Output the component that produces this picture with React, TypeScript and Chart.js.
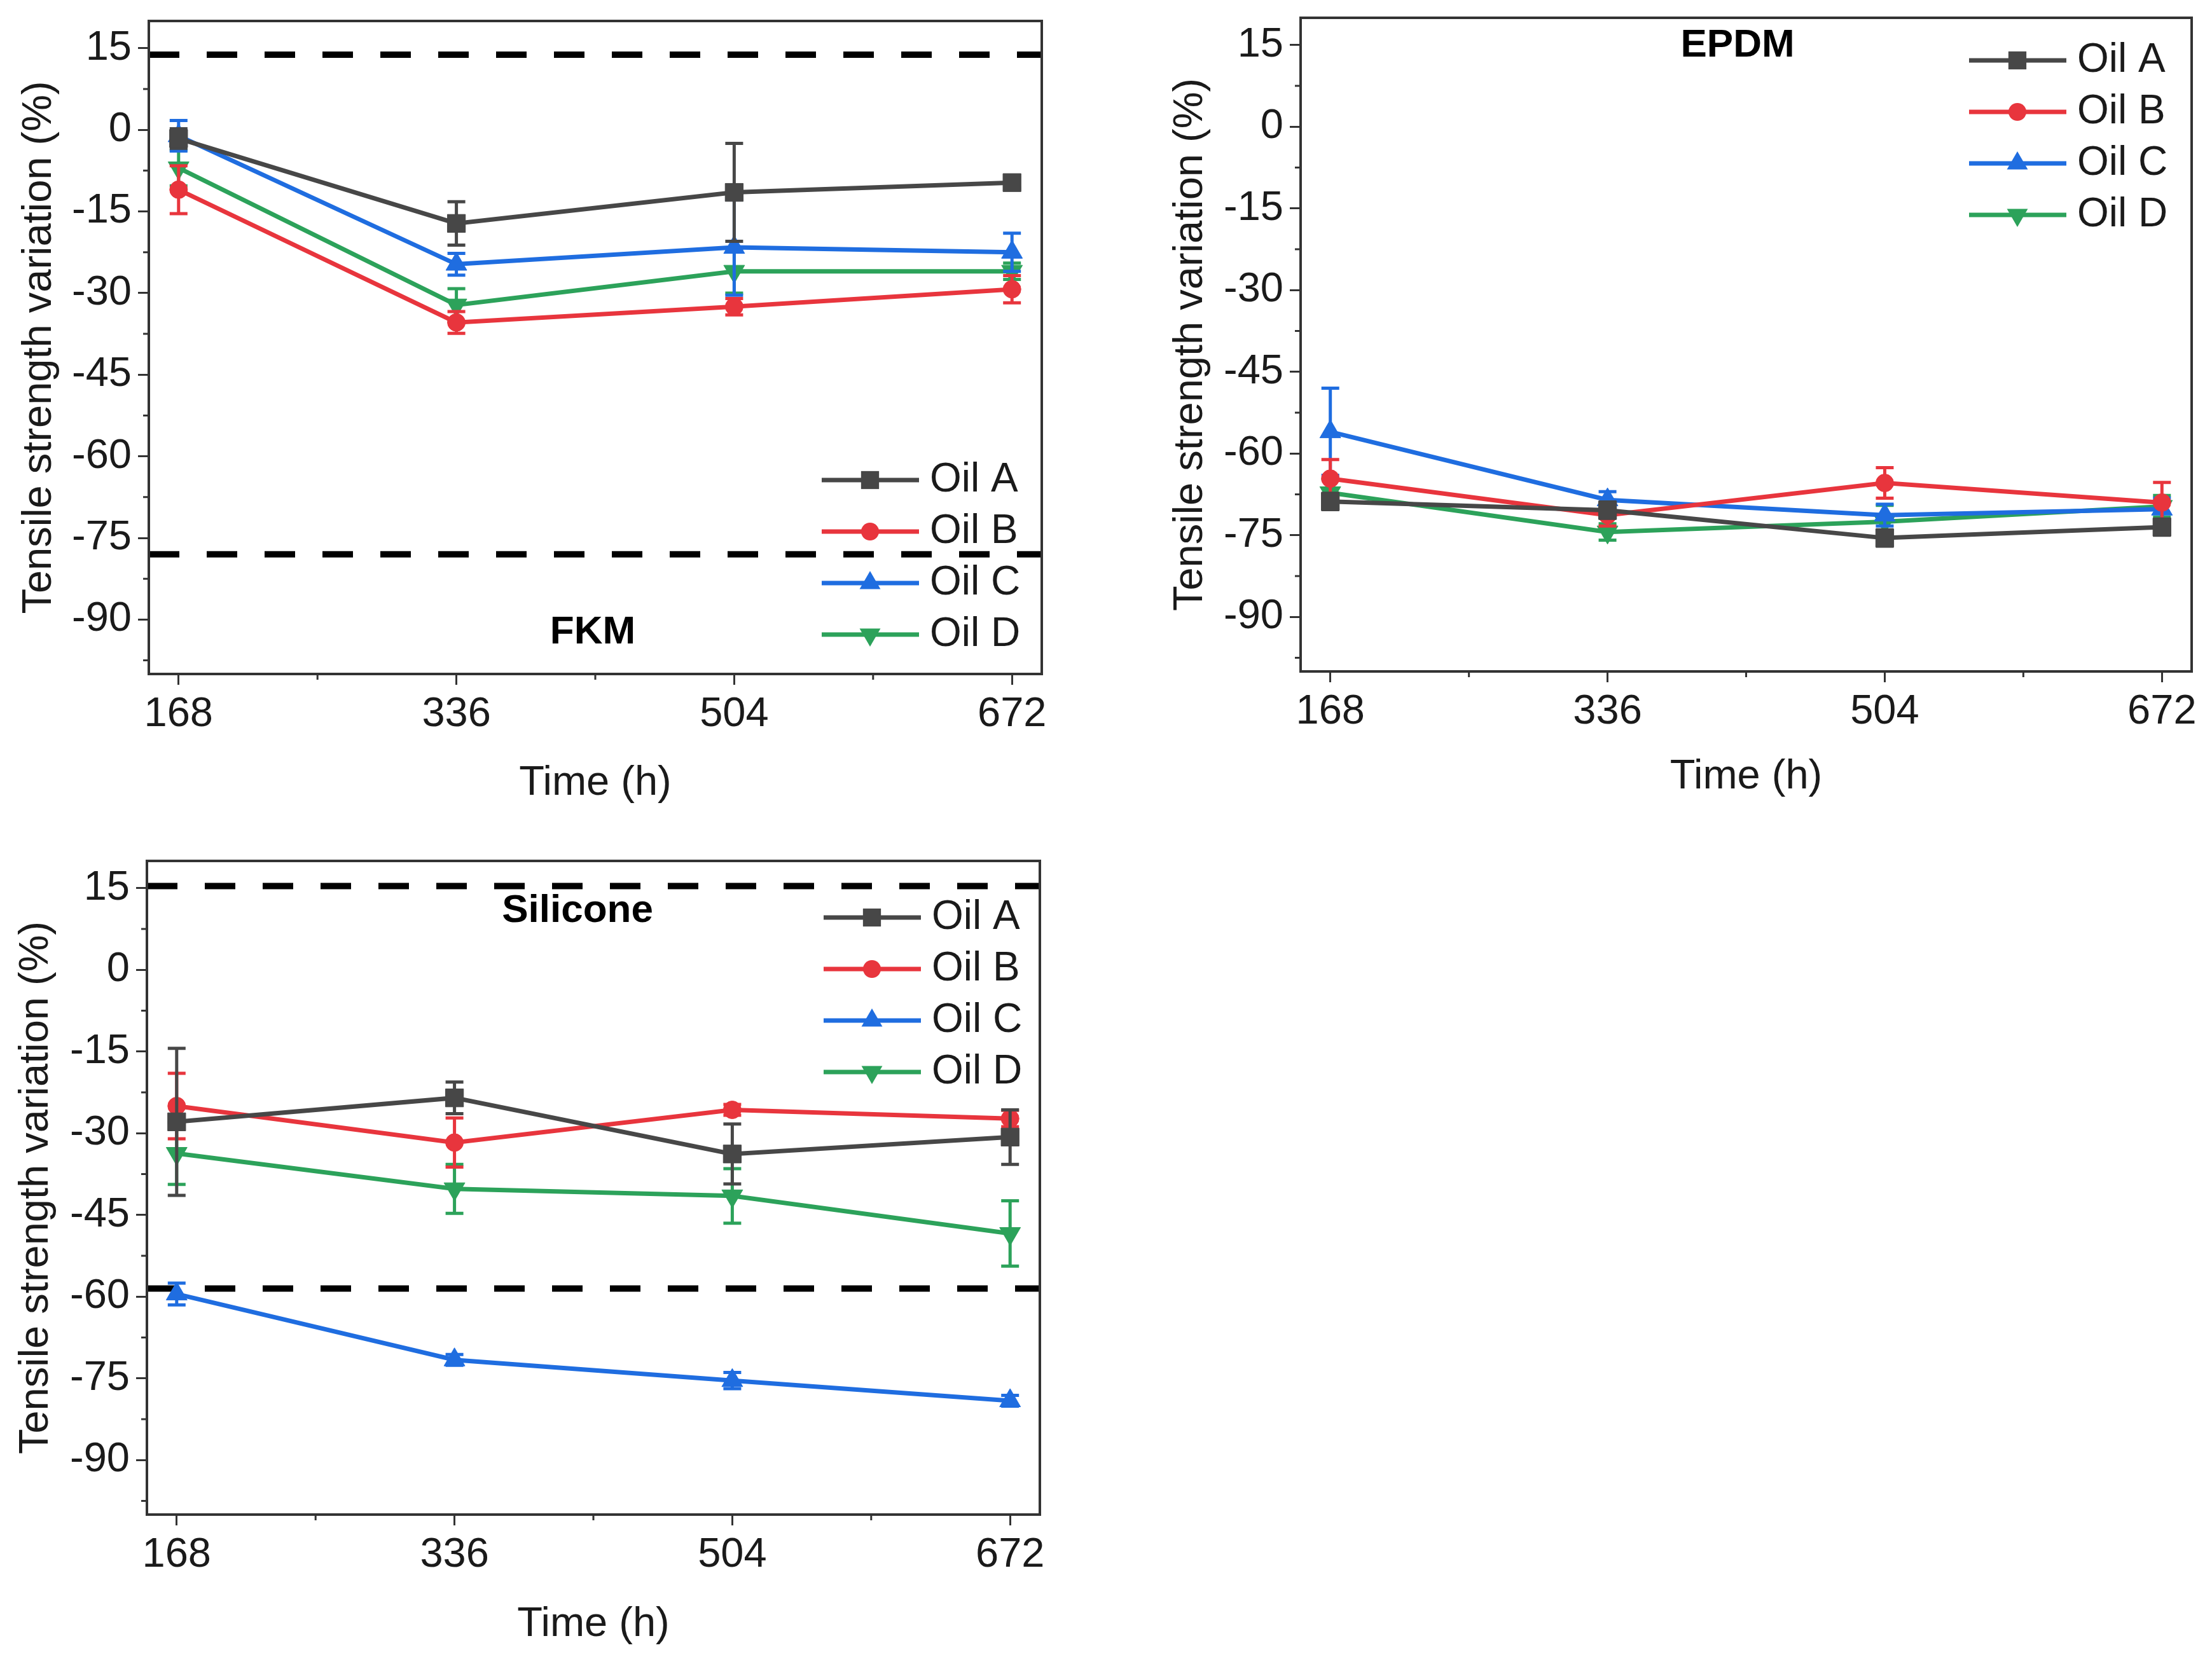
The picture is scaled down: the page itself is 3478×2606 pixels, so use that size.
import { useEffect, useRef } from 'react'
import { Chart, registerables } from 'chart.js'

Chart.register(...registerables)

const FONT = '"Liberation Sans", Arial, Helvetica, sans-serif'
const INK = '#1a1a1a'
const FRAME = '#333333'

// shared axes
const hours = [168, 336, 504, 672]
const xMinor = [252, 420, 588]
const yTicks = [-90, -75, -60, -45, -30, -15, 0, 15]
const yMinor = [-97.5, -82.5, -67.5, -52.5, -37.5, -22.5, -7.5, 7.5]
const oilNames = ['Oil A', 'Oil B', 'Oil C', 'Oil D']

// FKM
const fkmOilA = [-1.6, -17.2, -11.5, -9.7]
const fkmOilB = [-11.0, -35.4, -32.5, -29.3]
const fkmOilC = [-1.1, -24.7, -21.6, -22.5]
const fkmOilD = [-7.0, -32.2, -26.0, -26.0]
const fkmErrA = [1.8, 4.0, 9.0, 1.0]
const fkmErrB = [4.4, 2.0, 1.5, 2.5]
const fkmErrC = [2.8, 2.0, 8.8, 3.5]
const fkmErrD = [3.3, 3.0, 4.0, 1.5]
const fkmLimits = [13.8, -78.0]

// EPDM
const epdmOilA = [-68.8, -70.4, -75.5, -73.5]
const epdmOilB = [-64.6, -71.3, -65.4, -69.0]
const epdmOilC = [-56.0, -68.5, -71.3, -70.2]
const epdmOilD = [-67.2, -74.4, -72.5, -69.7]
const epdmErrA = [1.5, 1.5, 1.5, 1.5]
const epdmErrB = [3.5, 2.0, 2.8, 3.7]
const epdmErrC = [8.0, 1.5, 2.0, 2.0]
const epdmErrD = [2.5, 1.5, 3.0, 2.0]
const epdmLimits: number[] = []

// Silicone
const silOilA = [-27.9, -23.5, -33.8, -30.7]
const silOilB = [-25.0, -31.7, -25.7, -27.3]
const silOilC = [-59.5, -71.6, -75.4, -79.1]
const silOilD = [-33.7, -40.2, -41.5, -48.4]
const silErrA = [13.5, 2.9, 5.5, 5.0]
const silErrB = [6.0, 4.5, 1.0, 1.5]
const silErrC = [2.0, 1.0, 1.5, 1.0]
const silErrD = [5.7, 4.5, 5.0, 6.0]
const silLimits = [15.4, -58.5]

const seriesStyle = [
  { color: '#474747', pointStyle: 'rect', rotation: 0, radius: 20 },
  { color: '#e8353d', pointStyle: 'circle', rotation: 0, radius: 14 },
  { color: '#1f6de0', pointStyle: 'triangle', rotation: 0, radius: 19 },
  { color: '#2ca25a', pointStyle: 'triangle', rotation: 180, radius: 19 },
]

type PanelProps = {
  name: string
  values: number[][]
  errors: number[][]
  limits: number[]
  box: { left: number; top: number; width: number; height: number }
  pad: { top: number; right: number }
  yAxisWidth: number
  xAxisHeight: number
  yTitlePad: number
  xTitlePad: number
  labelAt: { x: number; y: number }
  legendAt: { right: number; top: number }
}

function drawMarker(ctx: CanvasRenderingContext2D, style: string, rotation: number, r: number, x: number, y: number) {
  ctx.beginPath()
  if (style === 'rect') {
    const s = r * Math.SQRT1_2
    ctx.rect(x - s, y - s, 2 * s, 2 * s)
  } else if (style === 'circle') {
    ctx.arc(x, y, r, 0, Math.PI * 2)
  } else {
    let rad = (rotation * Math.PI) / 180
    ctx.moveTo(x + Math.sin(rad) * r, y - Math.cos(rad) * r)
    rad += (2 * Math.PI) / 3
    ctx.lineTo(x + Math.sin(rad) * r, y - Math.cos(rad) * r)
    rad += (2 * Math.PI) / 3
    ctx.lineTo(x + Math.sin(rad) * r, y - Math.cos(rad) * r)
    ctx.closePath()
  }
  ctx.fill()
}

function Panel(props: PanelProps) {
  const canvasRef = useRef<HTMLCanvasElement>(null)

  useEffect(() => {
    const canvas = canvasRef.current
    if (!canvas) return

    const extras = {
      id: 'panelExtras',
      beforeDatasetsDraw(chart: any) {
        const { ctx, chartArea: a } = chart
        const y = chart.scales.y
        ctx.save()
        ctx.beginPath()
        ctx.rect(a.left, a.top, a.right - a.left, a.bottom - a.top)
        ctx.clip()
        ctx.setLineDash([48, 43])
        ctx.lineWidth = 10
        ctx.strokeStyle = '#000'
        props.limits.forEach((v) => {
          const py = y.getPixelForValue(v)
          ctx.beginPath()
          ctx.moveTo(a.left, py)
          ctx.lineTo(a.right, py)
          ctx.stroke()
        })
        ctx.restore()
      },
      beforeDatasetDraw(chart: any, args: any) {
        const { ctx } = chart
        const x = chart.scales.x
        const y = chart.scales.y
        const i = args.index
        const vals = props.values[i]
        const errs = props.errors[i]
        ctx.save()
        ctx.strokeStyle = seriesStyle[i].color
        ctx.lineWidth = 5
        hours.forEach((h, k) => {
          const px = x.getPixelForValue(h)
          const top = y.getPixelForValue(vals[k] + errs[k])
          const bot = y.getPixelForValue(vals[k] - errs[k])
          ctx.beginPath()
          ctx.moveTo(px, top)
          ctx.lineTo(px, bot)
          ctx.moveTo(px - 14, top)
          ctx.lineTo(px + 14, top)
          ctx.moveTo(px - 14, bot)
          ctx.lineTo(px + 14, bot)
          ctx.stroke()
        })
        ctx.restore()
      },
      afterDraw(chart: any) {
        const { ctx, chartArea: a } = chart
        const x = chart.scales.x
        const y = chart.scales.y
        ctx.save()
        // frame
        ctx.strokeStyle = FRAME
        ctx.lineWidth = 4
        ctx.strokeRect(a.left, a.top, a.right - a.left, a.bottom - a.top)
        // minor ticks
        ctx.lineWidth = 3
        ctx.beginPath()
        yMinor.forEach((v) => {
          const py = y.getPixelForValue(v)
          ctx.moveTo(a.left - 9, py)
          ctx.lineTo(a.left, py)
        })
        xMinor.forEach((v) => {
          const px = x.getPixelForValue(v)
          ctx.moveTo(px, a.bottom)
          ctx.lineTo(px, a.bottom + 9)
        })
        ctx.stroke()
        // panel label
        ctx.fillStyle = '#000'
        ctx.font = `bold 62px ${FONT}`
        ctx.textAlign = 'center'
        ctx.textBaseline = 'middle'
        ctx.fillText(props.name, a.left + props.labelAt.x, a.top + props.labelAt.y)
        // legend
        ctx.font = `64px ${FONT}`
        ctx.textAlign = 'left'
        oilNames.forEach((n, i) => {
          const s = seriesStyle[i]
          const ly = a.top + props.legendAt.top + i * 81
          const x0 = a.right - props.legendAt.right
          ctx.strokeStyle = s.color
          ctx.lineWidth = 7
          ctx.beginPath()
          ctx.moveTo(x0, ly)
          ctx.lineTo(x0 + 153, ly)
          ctx.stroke()
          ctx.fillStyle = s.color
          drawMarker(ctx, s.pointStyle, s.rotation, s.radius, x0 + 76, ly)
          ctx.fillStyle = INK
          ctx.fillText(n, x0 + 170, ly)
        })
        ctx.restore()
      },
    }

    const chart = new Chart(canvas, {
      type: 'line',
      data: {
        datasets: props.values.map((vals, i) => ({
          label: oilNames[i],
          data: hours.map((h, k) => ({ x: h, y: vals[k] })),
          borderColor: seriesStyle[i].color,
          backgroundColor: seriesStyle[i].color,
          borderWidth: 7,
          pointStyle: seriesStyle[i].pointStyle as any,
          pointRotation: seriesStyle[i].rotation,
          pointRadius: seriesStyle[i].radius,
          pointBorderWidth: 1,
          pointBackgroundColor: seriesStyle[i].color,
          tension: 0,
        })),
      },
      options: {
        animation: false,
        responsive: false,
        devicePixelRatio: 1,
        layout: { padding: { top: props.pad.top, right: props.pad.right, left: 0, bottom: 0 } },
        plugins: {
          legend: { display: false },
          tooltip: { enabled: false },
        },
        scales: {
          x: {
            type: 'linear',
            min: 150,
            max: 690,
            afterBuildTicks: (s: any) => {
              s.ticks = hours.map((v) => ({ value: v }))
            },
            afterFit: (s: any) => {
              s.height = props.xAxisHeight
              s.paddingLeft = 0
              s.paddingRight = 0
            },
            ticks: {
              color: INK,
              font: { family: FONT, size: 65 },
              padding: 8,
              maxRotation: 0,
              callback: (v: any) => String(v),
            },
            grid: {
              display: true,
              drawOnChartArea: false,
              drawTicks: true,
              tickLength: 17,
              tickWidth: 3,
              tickColor: FRAME,
              color: FRAME,
            },
            border: { display: false },
            title: {
              display: true,
              text: 'Time (h)',
              color: INK,
              font: { family: FONT, size: 65 },
              padding: { top: 0, bottom: props.xTitlePad },
            },
          },
          y: {
            type: 'linear',
            min: -100,
            max: 20,
            afterBuildTicks: (s: any) => {
              s.ticks = yTicks.map((v) => ({ value: v }))
            },
            afterFit: (s: any) => {
              s.width = props.yAxisWidth
              s.paddingTop = 0
              s.paddingBottom = 0
            },
            ticks: {
              color: INK,
              font: { family: FONT, size: 65 },
              padding: 10,
              callback: (v: any) => String(v),
            },
            grid: {
              display: true,
              drawOnChartArea: false,
              drawTicks: true,
              tickLength: 17,
              tickWidth: 3,
              tickColor: FRAME,
              color: FRAME,
            },
            border: { display: false },
            title: {
              display: true,
              text: 'Tensile strength variation (%)',
              color: INK,
              font: { family: FONT, size: 65 },
              padding: { top: props.yTitlePad, bottom: 0 },
            },
          },
        },
      },
      plugins: [extras],
    } as any)

    return () => {
      chart.destroy()
    }
  }, [])

  const b = props.box
  return (
    <canvas
      ref={canvasRef}
      width={b.width}
      height={b.height}
      style={{ position: 'absolute', left: b.left, top: b.top, width: b.width, height: b.height }}
    />
  )
}

export default function App() {
  return (
    <div style={{ position: 'absolute', left: 0, top: 0, width: 3478, height: 2606, background: '#fff', overflow: 'hidden' }}>
      <Panel
        name="FKM"
        values={[fkmOilA, fkmOilB, fkmOilC, fkmOilD]}
        errors={[fkmErrA, fkmErrB, fkmErrC, fkmErrD]}
        limits={fkmLimits}
        box={{ left: 0, top: 0, width: 1700, height: 1300 }}
        pad={{ top: 33, right: 62 }}
        yAxisWidth={234}
        xAxisHeight={240}
        yTitlePad={23}
        xTitlePad={29}
        labelAt={{ x: 698, y: 962 }}
        legendAt={{ right: 346, top: 722 }}
      />
      <Panel
        name="EPDM"
        values={[epdmOilA, epdmOilB, epdmOilC, epdmOilD]}
        errors={[epdmErrA, epdmErrB, epdmErrC, epdmErrD]}
        limits={epdmLimits}
        box={{ left: 1810, top: 0, width: 1668, height: 1300 }}
        pad={{ top: 28, right: 32 }}
        yAxisWidth={235}
        xAxisHeight={244}
        yTitlePad={23}
        xTitlePad={39}
        labelAt={{ x: 687, y: 44 }}
        legendAt={{ right: 350, top: 67 }}
      />
      <Panel
        name="Silicone"
        values={[silOilA, silOilB, silOilC, silOilD]}
        errors={[silErrA, silErrB, silErrC, silErrD]}
        limits={silLimits}
        box={{ left: 0, top: 1320, width: 1700, height: 1286 }}
        pad={{ top: 34, right: 65 }}
        yAxisWidth={231}
        xAxisHeight={224}
        yTitlePad={18}
        xTitlePad={12}
        labelAt={{ x: 677, y: 79 }}
        legendAt={{ right: 340, top: 89 }}
      />
    </div>
  )
}
